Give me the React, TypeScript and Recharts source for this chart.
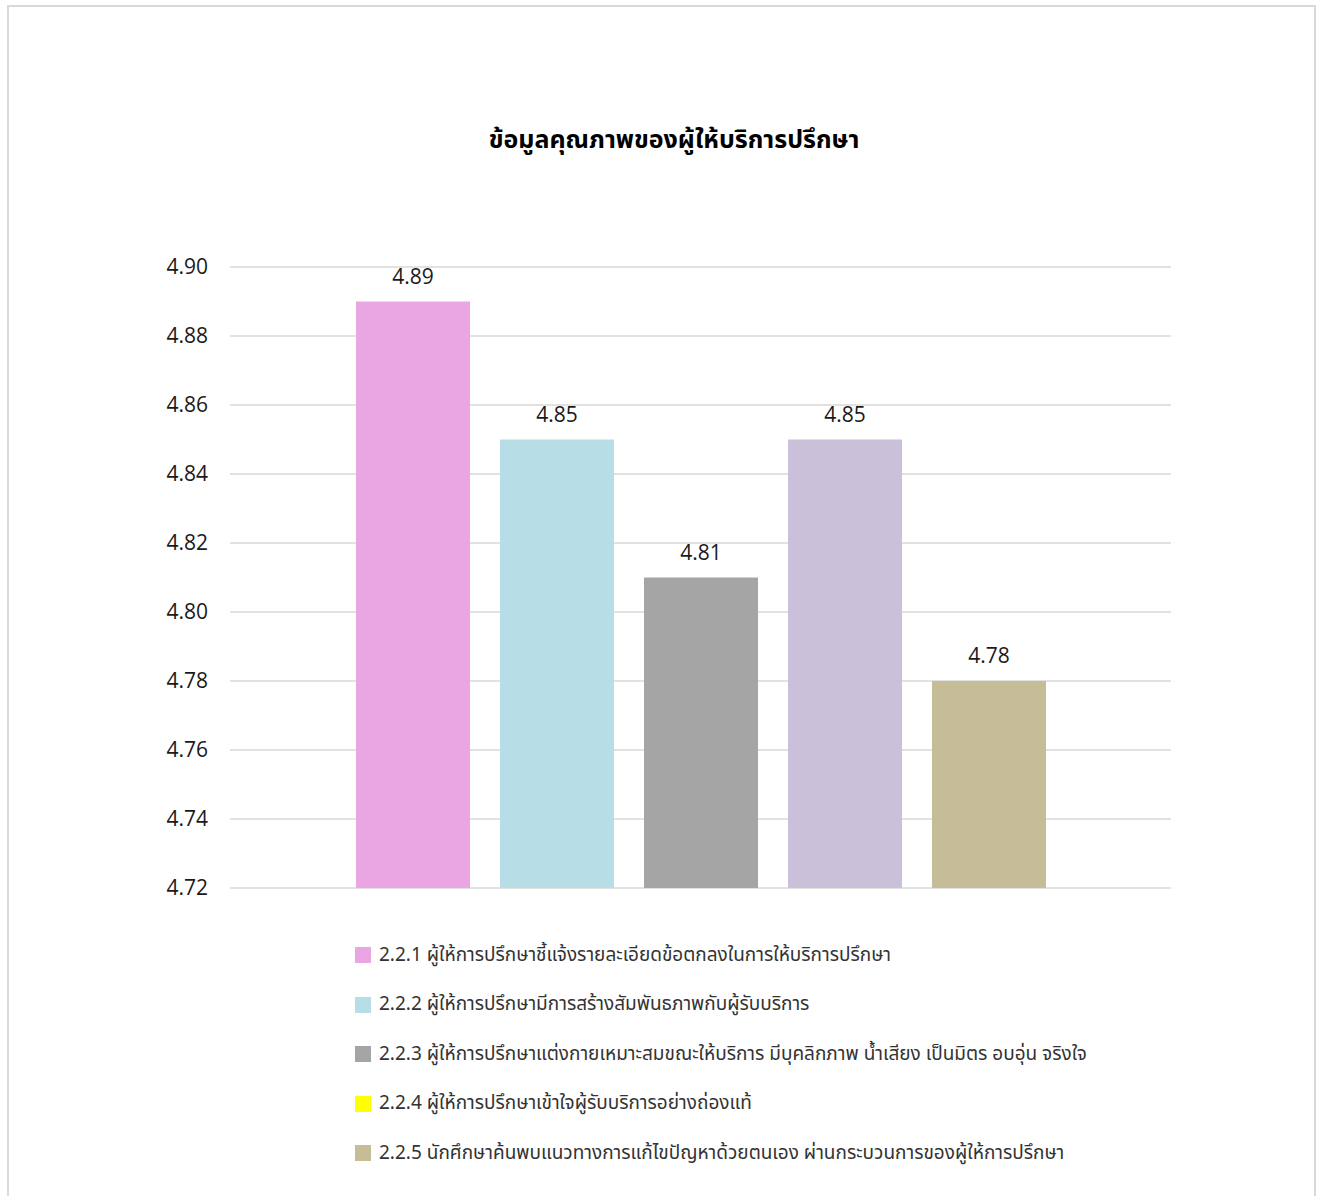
import { BarChart, Bar, XAxis, YAxis, CartesianGrid, LabelList } from "recharts";

const seriesNames = [
  "2.2.1 ผู้ให้การปรึกษาชี้แจ้งรายละเอียดข้อตกลงในการให้บริการปรึกษา",
  "2.2.2 ผู้ให้การปรึกษามีการสร้างสัมพันธภาพกับผู้รับบริการ",
  "2.2.3 ผู้ให้การปรึกษาแต่งกายเหมาะสมขณะให้บริการ มีบุคลิกภาพ น้ำเสียง เป็นมิตร อบอุ่น จริงใจ",
  "2.2.4 ผู้ให้การปรึกษาเข้าใจผู้รับบริการอย่างถ่องแท้",
  "2.2.5 นักศึกษาค้นพบแนวทางการแก้ไขปัญหาด้วยตนเอง ผ่านกระบวนการของผู้ให้การปรึกษา",
];
const seriesValues = [4.89, 4.85, 4.81, 4.85, 4.78];
const barColors = ["#E9A6E3", "#B7DDE7", "#A5A5A5", "#CBC0DA", "#C5BD97"];
const legendColors = ["#E9A6E3", "#B7DDE7", "#A5A5A5", "#FFFF00", "#C5BD97"];
const yTicks = [4.72, 4.74, 4.76, 4.78, 4.8, 4.82, 4.84, 4.86, 4.88, 4.9];

const keys = seriesValues.map((_, i) => `s${i + 1}`);
const row: Record<string, string | number> = { name: "" };
keys.forEach((k, i) => (row[k] = seriesValues[i]));
const data = [row];

const thaiFont = '"Noto Sans Thai", "Noto Sans", "Open Sans", sans-serif';
const numFont = '"Open Sans", sans-serif';

export default function App() {
  return (
    <div style={{ position: "absolute", left: 0, top: 0, width: 1318, height: 1196, overflow: "hidden", background: "#fff" }}>
      <div
        style={{
          position: "absolute",
          left: 7,
          top: 5,
          width: 1309,
          height: 1220,
          border: "2px solid #d9d9d9",
          boxSizing: "border-box",
        }}
      />
      <div
        style={{
          position: "absolute",
          left: 474,
          width: 400,
          top: 121,
          textAlign: "center",
          fontFamily: thaiFont,
          fontWeight: 700,
          fontSize: 25,
          color: "#000",
          whiteSpace: "nowrap",
        }}
      >
        ข้อมูลคุณภาพของผู้ให้บริการปรึกษา
      </div>
      <div style={{ position: "absolute", left: 0, top: 0 }}>
        <BarChart
          width={1318}
          height={900}
          data={data}
          margin={{ top: 267, right: 147, left: 150, bottom: 12 }}
          barSize={114}
          barGap={30}
        >
          <CartesianGrid vertical={false} stroke="#d9d9d9" strokeWidth={1.5} />
          <XAxis dataKey="name" hide />
          <YAxis
            domain={[4.72, 4.9]}
            ticks={yTicks}
            interval={0}
            allowDataOverflow
            width={80}
            axisLine={false}
            tickLine={false}
            tickSize={0}
            tickMargin={22}
            tickFormatter={(v: number) => v.toFixed(2)}
            tick={{ fill: "#1a1a1a", fontSize: 21, fontFamily: numFont }}
          />
          {keys.map((k, i) => (
            <Bar key={k} dataKey={k} name={seriesNames[i]} fill={barColors[i]} isAnimationActive={false}>
              <LabelList
                dataKey={k}
                position="top"
                offset={18}
                formatter={(v: number) => v.toFixed(2)}
                style={{ fill: "#1a1a1a", fontSize: 21, fontFamily: numFont }}
              />
            </Bar>
          ))}
        </BarChart>
      </div>
      {seriesNames.map((n, i) => (
        <div
          key={n}
          style={{
            position: "absolute",
            left: 355,
            top: 955 + i * 49.5 - 14,
            height: 28,
            display: "flex",
            alignItems: "center",
            whiteSpace: "nowrap",
            fontFamily: thaiFont,
            fontSize: 19,
            color: "#333",
          }}
        >
          <span style={{ display: "inline-block", width: 16, height: 16, background: legendColors[i], marginRight: 8 }} />
          {n}
        </div>
      ))}
    </div>
  );
}
